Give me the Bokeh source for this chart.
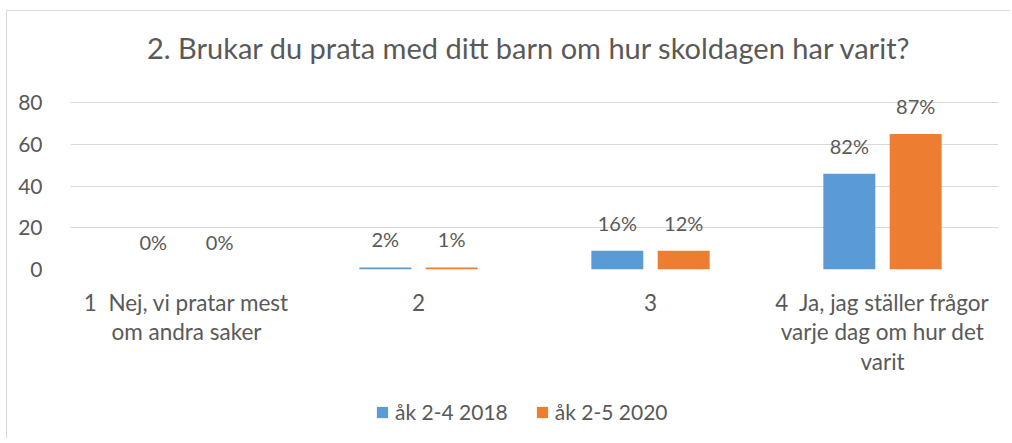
from bokeh.plotting import figure
from bokeh.layouts import column
from bokeh.models import (ColumnDataSource, Range1d, FixedTicker, Legend, LegendItem, Label)
from bokeh.core.properties import value
from bokeh.embed import file_html
from bokeh.resources import INLINE

title_text = "2. Brukar du prata med ditt barn om hur skoldagen har varit?"
categories = ["1\u00a0 Nej, vi pratar mest\nom andra saker", "2", "3",
              "4\u00a0 Ja, jag ställer frågor\nvarje dag om hur det\nvarit"]
series_names = ["åk 2-4 2018", "åk 2-5 2020"]
counts_2018 = [0, 1, 9, 46]
counts_2020 = [0, 1, 9, 65]
labels_2018 = ["0%", "2%", "16%", "82%"]
labels_2020 = ["0%", "1%", "12%", "87%"]
y_ticks = [0, 20, 40, 60, 80]

BLUE = "#5B9BD5"
ORANGE = "#ED7D31"
TXT = "#595959"
GRID = "#D9D9D9"
FONT = "Lato"
W = 1003

pos = list(range(1, len(categories) + 1))
off = 0.143
bw = 0.224


def strip(height):
    f = figure(width=W, height=height, output_backend="svg", toolbar_location=None,
               x_range=Range1d(63, W - 12), y_range=Range1d(0, height),
               x_axis_type=None, y_axis_type=None, min_border=0)
    f.outline_line_color = None
    f.grid.visible = False
    f.border_fill_color = "white"
    f.background_fill_color = "white"
    return f


# title strip
t = strip(70)
t.add_layout(Label(x=522, y=34, text=title_text, text_align="center",
                   text_baseline="alphabetic", text_color=TXT,
                   text_font=FONT, text_font_size="29px"))

# main chart
p = figure(width=W, height=305, output_backend="svg", toolbar_location=None,
           x_range=Range1d(0.5, 4.5), y_range=Range1d(0, 84),
           min_border_left=63, min_border_right=12, min_border_top=13,
           min_border_bottom=117)
p.outline_line_color = None
p.background_fill_color = "white"
p.border_fill_color = "white"

src1 = ColumnDataSource(dict(x=[c - off for c in pos], top=counts_2018, lab=labels_2018))
src2 = ColumnDataSource(dict(x=[c + off for c in pos], top=counts_2020, lab=labels_2020))

p.vbar(x="x", top="top", bottom=0, width=bw, source=src1,
       fill_color=BLUE, line_color=None)
p.vbar(x="x", top="top", bottom=0, width=bw, source=src2,
       fill_color=ORANGE, line_color=None)

for s in (src1, src2):
    p.text(x="x", y="top", text="lab", source=s, text_align="center",
           text_baseline="alphabetic", y_offset=-28, text_color=TXT,
           text_font=value(FONT), text_font_size="20px")

p.xaxis.ticker = FixedTicker(ticks=pos)
p.xaxis.major_label_overrides = {c: lab for c, lab in zip(pos, categories)}
p.xaxis.axis_line_color = None
p.xaxis.major_tick_line_color = None
p.xaxis.minor_tick_line_color = None
p.xaxis.major_label_text_color = TXT
p.xaxis.major_label_text_font = FONT
p.xaxis.major_label_text_font_size = "22.5px"
p.xaxis.major_label_text_line_height = 1.1
p.xaxis.major_label_standoff = 13

p.yaxis.ticker = FixedTicker(ticks=y_ticks)
p.yaxis.axis_line_color = None
p.yaxis.major_tick_line_color = None
p.yaxis.minor_tick_line_color = None
p.yaxis.major_label_text_color = TXT
p.yaxis.major_label_text_font = FONT
p.yaxis.major_label_text_font_size = "21px"
p.yaxis.major_label_standoff = 22

p.xgrid.visible = False
p.ygrid.grid_line_color = GRID
p.ygrid.grid_line_width = 1

# legend strip
q = strip(52)
lr1 = q.vbar(x=[-500], top=[-500], bottom=-600, width=1, fill_color=BLUE, line_color=None)
lr2 = q.vbar(x=[-500], top=[-500], bottom=-600, width=1, fill_color=ORANGE, line_color=None)
legend = Legend(items=[LegendItem(label=series_names[0], renderers=[lr1]),
                       LegendItem(label=series_names[1], renderers=[lr2])],
                location=(305, 14), orientation="horizontal",
                glyph_width=14, glyph_height=14, label_standoff=6, spacing=27,
                padding=0, margin=0, border_line_color=None,
                background_fill_alpha=0, label_text_color=TXT,
                label_text_font=FONT, label_text_font_size="21px",
                label_height=14)
q.add_layout(legend)

layout = column(t, p, q, spacing=0)
layout.margin = (10, 0, 0, 6)
layout.styles = {"border-left": "1px solid #D9D9D9", "border-top": "1px solid #D9D9D9"}

open("out.html", "w").write(file_html(layout, INLINE))
